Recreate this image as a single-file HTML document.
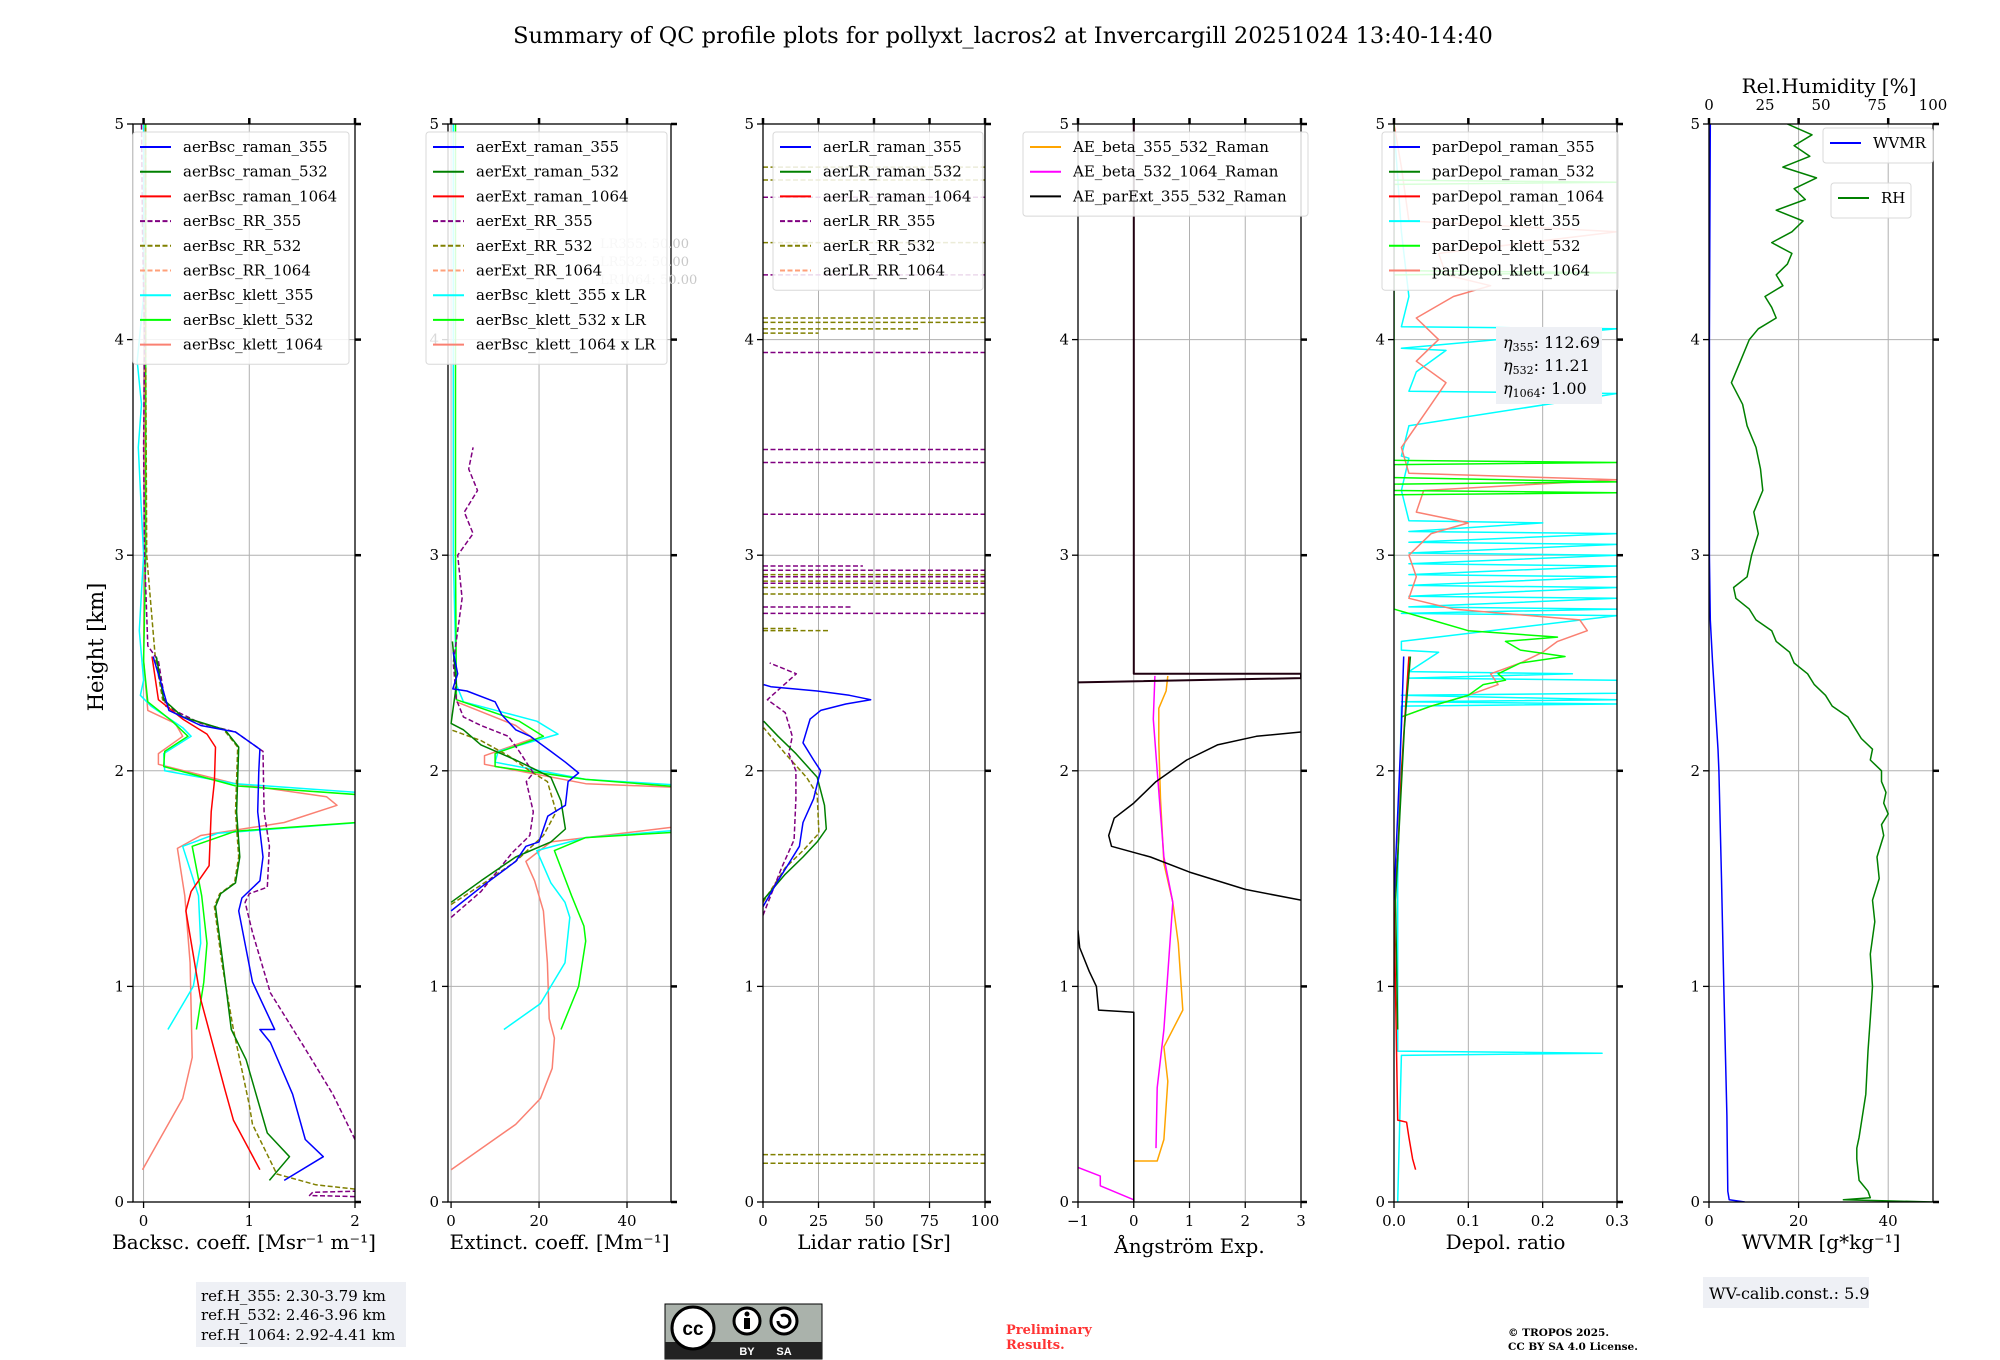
<!DOCTYPE html>
<html><head><meta charset="utf-8">
<style>
html,body{margin:0;padding:0;background:#fff;}
svg{display:block;font-family:"DejaVu Serif","Liberation Serif",serif;}
</style></head>
<body>
<svg id="fig" width="2000" height="1360" viewBox="0 0 2000 1360" xmlns="http://www.w3.org/2000/svg">
<rect x="0" y="0" width="2000" height="1360" fill="#fff"/>
<text x="1003" y="43" font-size="22.5" text-anchor="middle">Summary of QC profile plots for pollyxt_lacros2 at Invercargill 20251024 13:40-14:40</text>
<text transform="translate(103,647) rotate(-90)" font-size="21" text-anchor="middle">Height [km]</text>
<g id="panels"></g>
<g>
<rect x="196" y="1282" width="210" height="65" fill="#eef0f5"/>
<text x="201" y="1301" font-size="15">ref.H_355: 2.30-3.79 km</text>
<text x="201" y="1320" font-size="15">ref.H_532: 2.46-3.96 km</text>
<text x="201" y="1340" font-size="15">ref.H_1064: 2.92-4.41 km</text>
</g>
<g>
<rect x="665" y="1304" width="157" height="55" fill="#aab2ab" stroke="#000" stroke-width="1"/>
<rect x="665" y="1342" width="157" height="17" fill="#222"/>
<circle cx="693" cy="1328" r="21" fill="#fff" stroke="#000" stroke-width="3"/>
<text x="693" y="1335" font-size="19" font-weight="bold" text-anchor="middle" font-family="Liberation Sans, sans-serif">cc</text>
<circle cx="747" cy="1321" r="13" fill="#fff" stroke="#000" stroke-width="3"/>
<circle cx="747" cy="1314" r="2.5" fill="#000"/>
<rect x="744" y="1318" width="6" height="11" fill="#000"/>
<circle cx="784" cy="1321" r="13" fill="#fff" stroke="#000" stroke-width="3"/>
<path d="M778 1321 a6 6 0 1 0 3 -5" fill="none" stroke="#000" stroke-width="3"/>
<text x="747" y="1355" font-size="11" fill="#fff" font-weight="bold" text-anchor="middle" font-family="Liberation Sans, sans-serif">BY</text>
<text x="784" y="1355" font-size="11" fill="#fff" font-weight="bold" text-anchor="middle" font-family="Liberation Sans, sans-serif">SA</text>
</g>
<text x="1006" y="1334" font-size="13" font-weight="bold" fill="#ff3333">Preliminary</text>
<text x="1006" y="1349" font-size="13" font-weight="bold" fill="#ff3333">Results.</text>
<text x="1508" y="1336" font-size="10.5" font-weight="bold">© TROPOS 2025.</text>
<text x="1508" y="1350" font-size="10.5" font-weight="bold">CC BY SA 4.0 License.</text>
<g>
<rect x="1703" y="1277" width="166" height="31" fill="#eef0f5"/>
<text x="1709" y="1299" font-size="16">WV-calib.const.: 5.9</text>
</g>
</svg>
<script>
// ---------- Panel 1: backscatter ----------
const bscR355H=[0.1,0.21,0.29,0.5,0.74,0.8,0.8,1.02,1.35,1.41,1.49,1.6,1.81,2.0,2.1,2.18,2.21,2.28,2.4,2.53];
const bscR355V=[1.33,1.70,1.53,1.41,1.2,1.1,1.24,1.03,0.9,0.93,1.1,1.13,1.08,1.09,1.1,0.87,0.54,0.24,0.17,0.09];
const bscR532H=[0.1,0.21,0.32,0.66,0.8,1.11,1.37,1.43,1.48,1.6,1.81,2.11,2.19,2.25,2.33,2.53];
const bscR532V=[1.19,1.38,1.17,0.97,0.83,0.75,0.68,0.73,0.87,0.91,0.88,0.9,0.77,0.37,0.19,0.12];
const bscR1064H=[0.15,0.38,0.52,0.94,1.35,1.44,1.56,1.81,1.95,2.11,2.17,2.24,2.33,2.53];
const bscR1064V=[1.1,0.85,0.77,0.54,0.4,0.45,0.62,0.64,0.67,0.68,0.6,0.37,0.14,0.08];
const bscRR355H=[0.29,0.5,0.71,0.97,1.25,1.39,1.43,1.46,1.65,1.81,2.09,2.18,2.22,2.3,2.51,2.58,3.0,3.5,4.0,4.5,5.0];
const bscRR355V=[2.0,1.79,1.53,1.2,1.03,0.96,1.0,1.17,1.19,1.14,1.13,0.87,0.54,0.21,0.14,0.04,0.01,0.0,0.01,-0.01,-0.02];
const bscRR355LowH=[0.025,0.03,0.045,0.05];
const bscRR355LowV=[2.0,1.57,1.6,2.0];
const bscRR532H=[0.06,0.08,0.13,0.36,0.45,0.8,1.11,1.37,1.43,1.48,1.6,1.81,2.11,2.19,2.25,2.33,2.53,3.0,4.0,5.0];
const bscRR532V=[2.0,1.63,1.26,1.03,1.0,0.85,0.74,0.67,0.72,0.86,0.9,0.87,0.89,0.76,0.36,0.18,0.11,0.03,0.02,0.02];
const bscK355H=[0.8,1.0,1.2,1.42,1.65,1.71,1.77,1.89,1.94,2.0,2.08,2.16,2.2,2.3,2.35,2.42,2.65,3.0,3.3,3.5,3.7,3.9,4.2,5.0];
const bscK355V=[0.23,0.47,0.54,0.52,0.37,0.7,2.3,2.3,0.87,0.2,0.19,0.45,0.37,0.07,-0.03,0.0,-0.04,0.0,-0.03,-0.05,-0.02,-0.06,0.0,0.0];
const bscK532H=[0.8,1.02,1.2,1.42,1.65,1.72,1.77,1.88,1.93,2.02,2.09,2.16,2.23,2.32,2.51,3.0,4.0,5.0];
const bscK532V=[0.5,0.57,0.6,0.55,0.46,0.87,2.3,2.3,0.87,0.19,0.2,0.42,0.27,0.04,0.0,0.02,0.02,0.02];
const bscK1064H=[0.15,0.48,0.67,1.11,1.42,1.64,1.7,1.76,1.84,1.88,1.94,2.03,2.08,2.16,2.22,2.28,2.51,3.0,4.0,5.0];
const bscK1064V=[-0.01,0.37,0.46,0.44,0.39,0.32,0.54,1.33,1.83,1.73,0.87,0.14,0.14,0.37,0.3,0.04,0.0,0.01,0.01,0.01];
// ---------- Panel 2: extinction ----------
const extR355H=[1.35,1.46,1.58,1.65,1.67,1.79,1.84,1.95,1.99,2.04,2.09,2.16,2.19,2.26,2.32,2.37,2.38,2.45,2.55];
const extR355V=[0,6.8,14.7,17,20,22,26,26.6,29,26,22.7,18,14.7,11.5,10,3.6,0.4,1.5,0.5];
const extR532H=[1.39,1.49,1.6,1.67,1.73,1.86,1.97,2.01,2.05,2.12,2.19,2.22,2.4,2.6];
const extR532V=[0,6.8,14.7,22.7,26,25,22.7,18.7,14.7,6.8,2.8,0,1.2,0.3];
const extRR355H=[1.32,1.44,1.62,1.7,1.81,1.95,1.99,2.09,2.16,2.21,2.25,2.33,2.5,2.8,3.0,3.1,3.2,3.3,3.4,3.5];
const extRR355V=[0,6.8,13.9,17.9,18.7,17.1,18.7,15.5,13,6.8,2.8,1.2,0.5,2.5,1.5,5,3,6,4,5];
const extRR532H=[1.38,1.47,1.58,1.7,1.81,1.95,2.0,2.07,2.14,2.19];
const extRR532V=[0,6.8,14.7,21,23.9,21.9,17.9,13,6.8,0];
const extK355H=[0.8,0.92,1.11,1.32,1.39,1.48,1.63,1.69,1.73,1.93,1.96,2.04,2.09,2.17,2.23,2.32,2.4,3.0,4.0,5.0];
const extK355V=[12,20.3,25.9,27,25.9,22.7,19.5,30.6,55,55,30.6,10,10.7,24.3,19.5,2.8,1.2,0.5,0.5,0.5];
const extK532H=[0.8,1.0,1.21,1.28,1.42,1.63,1.69,1.72,1.92,1.96,2.02,2.08,2.16,2.23,2.33,3.0,4.0,5.0];
const extK532V=[25,29,30.6,30.2,27.4,23.5,30.6,55,55,30.6,10,10,21,15.5,1.2,1.0,1.0,1.0];
const extK1064H=[0.15,0.36,0.48,0.62,0.76,0.85,1.11,1.35,1.49,1.58,1.67,1.75,1.92,1.94,2.03,2.07,2.15,2.21,2.32];
const extK1064V=[0,14.7,20.3,23,23.5,22.3,21.9,21,19,17,22.7,55,55,30.6,7.6,7.6,18.7,14.7,1.2];
// ---------- Panel 3: lidar ratio ----------
const lrR355H=[1.37,1.49,1.57,1.65,1.76,1.87,1.97,2.0,2.05,2.13,2.24,2.28,2.31,2.33,2.35,2.37,2.39,2.4];
const lrR355V=[0,6.7,11.6,16.4,18,22.8,25.2,26,22.8,18,21.2,26,37.3,48.5,38.9,24.4,3.5,0.3];
const lrR532H=[1.4,1.52,1.6,1.67,1.73,1.84,1.97,2.08,2.16,2.23];
const lrR532V=[0,10,18,24.4,28.5,27.7,24.4,14.8,6.8,0.3];
const lrRR355H=[1.33,1.55,1.68,1.87,2.0,2.08,2.16,2.27,2.33,2.45,2.5];
const lrRR355V=[0,8.4,14,14.8,14.8,11.6,13.2,10,2,15,3];
const lrRR532H=[1.39,1.55,1.63,1.71,1.89,1.97,2.08,2.2];
const lrRR532V=[0,10,18,25.2,24.4,19.6,10,0.3];
const lrSpikePurpleH=[4.66,4.3,3.94,3.49,3.43,3.19,2.95,2.93,2.9,2.87,2.76,2.73];
const lrSpikePurpleV=[100,100,100,100,100,100,45,100,100,100,40,100];
const lrSpikeOliveH=[4.8,4.74,4.45,4.1,4.08,4.05,4.03,2.91,2.88,2.85,2.82,2.66,2.65,0.22,0.18];
const lrSpikeOliveV=[100,100,100,100,100,70,25,100,100,100,100,15,30,100,100];
// ---------- Panel 4: Angstrom ----------
const ae355532H=[0.19,0.19,0.29,0.56,0.72,0.89,1.2,1.39,1.57,1.87,2.13,2.29,2.37,2.44];
const ae355532V=[0.0,0.42,0.54,0.61,0.54,0.88,0.8,0.7,0.54,0.48,0.45,0.45,0.58,0.61];
const ae5321064LowH=[0.16,0.12,0.075,0.01];
const ae5321064LowV=[-1.0,-0.6,-0.6,0.0];
const ae5321064H=[0.25,0.53,0.8,1.39,1.6,2.0,2.24,2.44];
const ae5321064V=[0.4,0.42,0.54,0.7,0.54,0.42,0.35,0.38];
const aeExtLowH=[0.0,0.88,0.89,1.0,1.07,1.18,1.26];
const aeExtLowV=[0.0,0.0,-0.63,-0.67,-0.8,-0.97,-1.0];
const aeExtMidH=[1.4,1.45,1.53,1.6,1.65,1.7,1.78,1.85,1.95,2.05,2.12,2.16,2.18];
const aeExtMidV=[3.0,2.0,1.0,0.3,-0.4,-0.45,-0.35,0.0,0.4,0.95,1.5,2.2,3.0];
const aeExtTopH=[2.41,2.43,2.45,2.45,5.0];
const aeExtTopV=[-1.0,3.0,3.0,0.0,0.0];
// ---------- Panel 5: depol ----------
const dpR355H=[1.4,1.8,2.2,2.53];
const dpR355V=[0.0,0.005,0.01,0.013];
const dpR532H=[0.8,1.4,1.8,2.2,2.53];
const dpR532V=[0.005,0.002,0.008,0.014,0.022];
const dpR1064H=[0.15,0.2,0.3,0.37,0.38,1.4,1.6,2.0,2.53];
const dpR1064V=[0.029,0.025,0.02,0.017,0.005,0.0,0.005,0.01,0.02];
const dpK355H=[0.0,0.68,0.69,0.7,1.5,2.3,2.31,2.32,2.33,2.35,2.36,2.42,2.43,2.45,2.46,2.55,2.56,2.6,2.72,2.73,2.75,2.76,2.8,2.81,2.85,2.86,2.9,2.91,2.95,2.96,3.0,3.01,3.05,3.06,3.1,3.11,3.15,3.16,3.3,3.45,3.46,3.6,3.75,3.76,3.85,3.95,3.96,4.05,4.06,4.2,4.5,5.0];
const dpK355V=[0.005,0.01,0.28,0.005,0.005,0.01,0.3,0.01,0.3,0.01,0.3,0.3,0.02,0.24,0.02,0.06,0.01,0.01,0.3,0.01,0.3,0.02,0.3,0.02,0.3,0.02,0.3,0.02,0.3,0.02,0.3,0.02,0.3,0.02,0.3,0.02,0.2,0.02,0.01,0.02,0.01,0.02,0.3,0.02,0.03,0.07,0.01,0.3,0.01,0.02,0.01,0.0];
const dpK532H=[2.25,2.3,2.35,2.4,2.42,2.45,2.5,2.53,2.56,2.6,2.62,2.65,2.7,2.75,3.28,3.29,3.3,3.33,3.34,3.36,3.42,3.43,3.44,3.6,4.3,4.31,4.32,4.72,4.73,4.74,5.0];
const dpK532V=[0.01,0.05,0.1,0.12,0.15,0.14,0.17,0.23,0.17,0.15,0.22,0.1,0.05,0.0,0.0,0.3,0.0,0.0,0.3,0.0,0.0,0.3,0.0,0.0,0.0,0.3,0.0,0.0,0.3,0.0,0.0];
const dpK1064H=[2.25,2.3,2.35,2.4,2.45,2.5,2.55,2.6,2.65,2.7,2.75,2.8,2.9,3.0,3.1,3.15,3.2,3.3,3.35,3.38,3.5,3.7,3.8,3.9,4.0,4.1,4.2,4.25,4.3,4.4,4.5,4.55,4.8,5.0];
const dpK1064V=[0.01,0.05,0.1,0.14,0.13,0.17,0.2,0.22,0.26,0.25,0.08,0.02,0.03,0.02,0.05,0.1,0.03,0.04,0.3,0.02,0.01,0.05,0.07,0.03,0.06,0.03,0.08,0.13,0.07,0.06,0.3,0.02,0.01,0.0];
// ---------- Panel 6: water vapour ----------
const wvH=[0.0,0.01,0.05,0.4,1.0,1.5,2.0,2.1,2.3,2.5,2.7,3.0,4.0,5.0];
const wvV=[8,4.5,4.2,4.0,3.3,2.8,2.2,2.0,1.4,0.8,0.3,0.1,0.1,0.3];
const rhH=[0.0,0.01,0.02,0.05,0.1,0.2,0.25,0.3,0.5,0.7,0.85,1.0,1.15,1.3,1.4,1.5,1.6,1.7,1.75,1.8,1.85,1.9,1.95,2.0,2.05,2.1,2.15,2.2,2.25,2.3,2.35,2.4,2.45,2.5,2.55,2.6,2.65,2.7,2.75,2.8,2.85,2.9,3.0,3.1,3.2,3.3,3.4,3.5,3.6,3.7,3.8,3.85,3.9,4.0,4.05,4.1,4.15,4.2,4.25,4.3,4.35,4.4,4.45,4.5,4.55,4.6,4.65,4.7,4.75,4.8,4.85,4.9,4.95,5.0];
const rhV=[100,60,72,71,67,66,66,67,70,71,72,73,72,74,73,76,75,78,77,80,78,79,77,77,72,73,68,65,62,55,52,47,44,38,36,30,28,21,18,12,11,17,19,22,20,24,23,21,17,15,10,12,14,18,22,30,28,25,33,30,35,37,28,37,42,30,43,38,48,33,45,38,46,35];

const Y0=1202, Y1=124;
function ys(h){return Y0-(h/5)*(Y0-Y1);}
const panels=[
 {name:'backscatter',x0:133,x1:355,d0:-0.1,d1:2,ticks:[0,1,2],tl:['0','1','2'],label:'Backsc. coeff. [Msr⁻¹ m⁻¹]'},
 {name:'extinction',x0:448,x1:671,d0:-0.7,d1:50,ticks:[0,20,40],tl:['0','20','40'],label:'Extinct. coeff. [Mm⁻¹]'},
 {name:'lidar-ratio',x0:763,x1:985,d0:0,d1:100,ticks:[0,25,50,75,100],tl:['0','25','50','75','100'],label:'Lidar ratio [Sr]'},
 {name:'angstrom',x0:1078,x1:1301,d0:-1,d1:3,ticks:[-1,0,1,2,3],tl:['−1','0','1','2','3'],label:'Ångström Exp.'},
 {name:'depol',x0:1394,x1:1617,d0:0,d1:0.3,ticks:[0,0.1,0.2,0.3],tl:['0.0','0.1','0.2','0.3'],label:'Depol. ratio'},
 {name:'wv',x0:1709,x1:1933,d0:0,d1:50,ticks:[0,20,40],tl:['0','20','40'],label:'WVMR [g*kg⁻¹]'}
];
const NS='http://www.w3.org/2000/svg';
const root=document.getElementById('panels');
function mk(tag,attrs,parent){const e=document.createElementNS(NS,tag);for(const k in attrs)e.setAttribute(k,attrs[k]);(parent||root).appendChild(e);return e;}
function xs(p,v){return p.x0+(v-p.d0)/(p.d1-p.d0)*(p.x1-p.x0);}

panels.forEach((p,i)=>{
  const g=mk('g',{});
  
  
  const cp=mk('clipPath',{id:'clip'+i},g);
  mk('rect',{x:p.x0,y:Y1,width:p.x1-p.x0,height:Y0-Y1},cp);
  p.g=g;
  p.plot=mk('g',{'clip-path':'url(#clip'+i+')'},g);
  p.ticks.forEach(t=>{const x=xs(p,t);const l=mk('line',{x1:x,x2:x,y1:Y1,y2:Y0,stroke:'#b0b0b0','stroke-width':1},p.plot);
    });
  [1,2,3,4].forEach(h=>{const l=mk('line',{x1:p.x0,x2:p.x1,y1:ys(h),y2:ys(h),stroke:'#b0b0b0','stroke-width':1},p.plot);
    });
});

function series(pi,H,V,color,dash,name,w){
  const p=panels[pi];let d='';let pen=false;
  for(let k=0;k<H.length;k++){
    if(H[k]==null||V[k]==null){pen=false;continue;}
    d+=(pen?'L':'M')+xs(p,V[k]).toFixed(1)+' '+ys(H[k]).toFixed(1);pen=true;
  }
  const e=mk('path',{d:d,fill:'none',stroke:color,'stroke-width':w||1.5,'stroke-dasharray':dash||'none','stroke-linejoin':'round'},p.plot);
  
  
}
function spikes(pi,H,V,color,name){
  const p=panels[pi];
  H.forEach((h,k)=>{
    const e=mk('line',{x1:xs(p,0),x2:xs(p,V[k]),y1:ys(h),y2:ys(h),stroke:color,'stroke-width':1.5,'stroke-dasharray':'5 2.5'},p.plot);
    
    
  });
}
const D='5 2.5';
series(0,bscK1064H,bscK1064V,'#fa8072','', 'line-aerBsc-klett-1064');
series(0,bscK355H,bscK355V,'#00ffff','', 'line-aerBsc-klett-355');
series(0,bscK532H,bscK532V,'#00ff00','', 'line-aerBsc-klett-532');
series(0,bscRR532H,bscRR532V,'#808000',D,'line-aerBsc-RR-532');
series(0,bscRR355H,bscRR355V,'#800080',D,'line-aerBsc-RR-355');
series(0,bscRR355LowH,bscRR355LowV,'#800080',D,'line-aerBsc-RR-355-low');
series(0,bscR1064H,bscR1064V,'#ff0000','', 'line-aerBsc-raman-1064');
series(0,bscR532H,bscR532V,'#008000','', 'line-aerBsc-raman-532');
series(0,bscR355H,bscR355V,'#0000ff','', 'line-aerBsc-raman-355');
series(1,extK1064H,extK1064V,'#fa8072','', 'line-aerExt-klett-1064');
series(1,extK355H,extK355V,'#00ffff','', 'line-aerExt-klett-355');
series(1,extK532H,extK532V,'#00ff00','', 'line-aerExt-klett-532');
series(1,extRR532H,extRR532V,'#808000',D,'line-aerExt-RR-532');
series(1,extRR355H,extRR355V,'#800080',D,'line-aerExt-RR-355');
series(1,extR532H,extR532V,'#008000','', 'line-aerExt-raman-532');
series(1,extR355H,extR355V,'#0000ff','', 'line-aerExt-raman-355');
spikes(2,lrSpikeOliveH,lrSpikeOliveV,'#808000','lr-spike-RR-532');
spikes(2,lrSpikePurpleH,lrSpikePurpleV,'#800080','lr-spike-RR-355');
series(2,lrRR532H,lrRR532V,'#808000',D,'line-aerLR-RR-532');
series(2,lrRR355H,lrRR355V,'#800080',D,'line-aerLR-RR-355');
series(2,lrR532H,lrR532V,'#008000','', 'line-aerLR-raman-532');
series(2,lrR355H,lrR355V,'#0000ff','', 'line-aerLR-raman-355');
series(3,ae355532H,ae355532V,'#ffa500','', 'line-AE-beta-355-532');
series(3,ae5321064LowH,ae5321064LowV,'#ff00ff','', 'line-AE-beta-532-1064-low');
series(3,ae5321064H,ae5321064V,'#ff00ff','', 'line-AE-beta-532-1064');
series(3,aeExtLowH,aeExtLowV,'#000','', 'line-AE-parExt-low');
series(3,aeExtMidH,aeExtMidV,'#000','', 'line-AE-parExt-mid');
series(3,aeExtTopH,aeExtTopV,'#200010','', 'line-AE-parExt-top',2);
series(4,dpK355H,dpK355V,'#00ffff','', 'line-parDepol-klett-355');
series(4,dpK1064H,dpK1064V,'#fa8072','', 'line-parDepol-klett-1064');
series(4,dpK532H,dpK532V,'#00ff00','', 'line-parDepol-klett-532');
series(4,dpR1064H,dpR1064V,'#ff0000','', 'line-parDepol-raman-1064');
series(4,dpR532H,dpR532V,'#008000','', 'line-parDepol-raman-532');
series(4,dpR355H,dpR355V,'#0000ff','', 'line-parDepol-raman-355');
series(5,wvH,wvV,'#0000ff','', 'line-wvmr');
series(5,rhH,rhV.map(v=>v/2),'#008000','', 'line-rh');

panels.forEach((p,i)=>{
  const g=p.g;
  mk('rect',{x:p.x0,y:Y1,width:p.x1-p.x0,height:Y0-Y1,fill:'none',stroke:'#000','stroke-width':1.3},g);
  p.ticks.forEach((t,k)=>{
    const x=xs(p,t);
    mk('line',{x1:x,x2:x,y1:Y0,y2:Y0+6,stroke:'#000','stroke-width':1.3},g);
    mk('line',{x1:x,x2:x,y1:Y1,y2:Y1-6,stroke:'#000','stroke-width':2.5},g);
    const tx=mk('text',{x:x,y:Y0+24,'font-size':15,'text-anchor':'middle'},g);
    tx.textContent=p.tl[k];
    
    
  });
  [0,1,2,3,4,5].forEach(h=>{
    const y=ys(h);
    mk('line',{x1:p.x0-6,x2:p.x0,y1:y,y2:y,stroke:'#000','stroke-width':1.3},g);
    mk('line',{x1:p.x1,x2:p.x1+6,y1:y,y2:y,stroke:'#000','stroke-width':2.5},g);
    const t=mk('text',{x:p.x0-9,y:y+5,'font-size':15,'text-anchor':'end'},g);
    t.textContent=String(h);
    
    
  });
  const lab=mk('text',{x:(p.x0+p.x1)/2,y:i==3?1253:1249,'font-size':20,'text-anchor':'middle'},g);
  lab.textContent=p.label;
  
  
});
const rhTicks=[0,25,50,75,100];
rhTicks.forEach(t=>{
  const p=panels[5];const x=xs(p,t/2);
  const tx=mk('text',{x:x,y:110,'font-size':15,'text-anchor':'middle'});
  tx.textContent=String(t);
  
  
});
const rht=mk('text',{x:1829,y:93,'font-size':20,'text-anchor':'middle'});
rht.textContent='Rel.Humidity [%]';



function legend(x,y,w,entries,name,sp){
  sp=sp||24.7;
  const g=mk('g',{});
  
  
  mk('rect',{x:x,y:y,width:w,height:entries.length*sp+10,rx:3,fill:'#fff','fill-opacity':0.85,stroke:'#d8d8d8'},g);
  entries.forEach((e,k)=>{
    const yy=y+15+k*sp;
    mk('line',{x1:x+7,x2:x+38,y1:yy,y2:yy,stroke:e[1],'stroke-width':2,'stroke-dasharray':e[2]?'5 2.5':'none'},g);
    const t=mk('text',{x:x+50,y:yy+5,'font-size':15},g);
    t.textContent=e[0];
  });
}
const lrg=mk('g',{'fill':'#c8c8c8','font-size':13});


[['LR355: 50.00',248],['LR532: 50.00',266],['LR1064: 50.00',284]].forEach(a=>{const t=mk('text',{x:600,y:a[1]},lrg);t.textContent=a[0];});
legend(133,132,216,[['aerBsc_raman_355','#0000ff'],['aerBsc_raman_532','#008000'],['aerBsc_raman_1064','#ff0000'],['aerBsc_RR_355','#800080',1],['aerBsc_RR_532','#808000',1],['aerBsc_RR_1064','#ffa07a',1],['aerBsc_klett_355','#00ffff'],['aerBsc_klett_532','#00ff00'],['aerBsc_klett_1064','#fa8072']],'legend-backscatter');
legend(426,132,241,[['aerExt_raman_355','#0000ff'],['aerExt_raman_532','#008000'],['aerExt_raman_1064','#ff0000'],['aerExt_RR_355','#800080',1],['aerExt_RR_532','#808000',1],['aerExt_RR_1064','#ffa07a',1],['aerBsc_klett_355 x LR','#00ffff'],['aerBsc_klett_532 x LR','#00ff00'],['aerBsc_klett_1064 x LR','#fa8072']],'legend-extinction');
legend(773,132,210,[['aerLR_raman_355','#0000ff'],['aerLR_raman_532','#008000'],['aerLR_raman_1064','#ff0000'],['aerLR_RR_355','#800080',1],['aerLR_RR_532','#808000',1],['aerLR_RR_1064','#ffa07a',1]],'legend-lidar-ratio');
legend(1023,132,285,[['AE_beta_355_532_Raman','#ffa500'],['AE_beta_532_1064_Raman','#ff00ff'],['AE_parExt_355_532_Raman','#000']],'legend-angstrom');
legend(1382,132,236,[['parDepol_raman_355','#0000ff'],['parDepol_raman_532','#008000'],['parDepol_raman_1064','#ff0000'],['parDepol_klett_355','#00ffff'],['parDepol_klett_532','#00ff00'],['parDepol_klett_1064','#fa8072']],'legend-depol');
legend(1823,128,110,[['WVMR','#0000ff']],'legend-wvmr',25);
legend(1831,183,80,[['RH','#008000']],'legend-rh',25);
const eg=mk('g',{});


mk('rect',{x:1496,y:327,width:106,height:77,fill:'#eef0f5'},eg);
[['η','355',': 112.69',348],['η','532',': 11.21',371],['η','1064',': 1.00',394]].forEach(a=>{
  const t=mk('text',{x:1503,y:a[3],'font-size':16},eg);
  const s1=mk('tspan',{'font-style':'italic'},t);s1.textContent=a[0];
  const s2=mk('tspan',{'font-size':11,dy:3},t);s2.textContent=a[1];
  const s3=mk('tspan',{dy:-3},t);s3.textContent=a[2];
});
</script>
</body></html>
